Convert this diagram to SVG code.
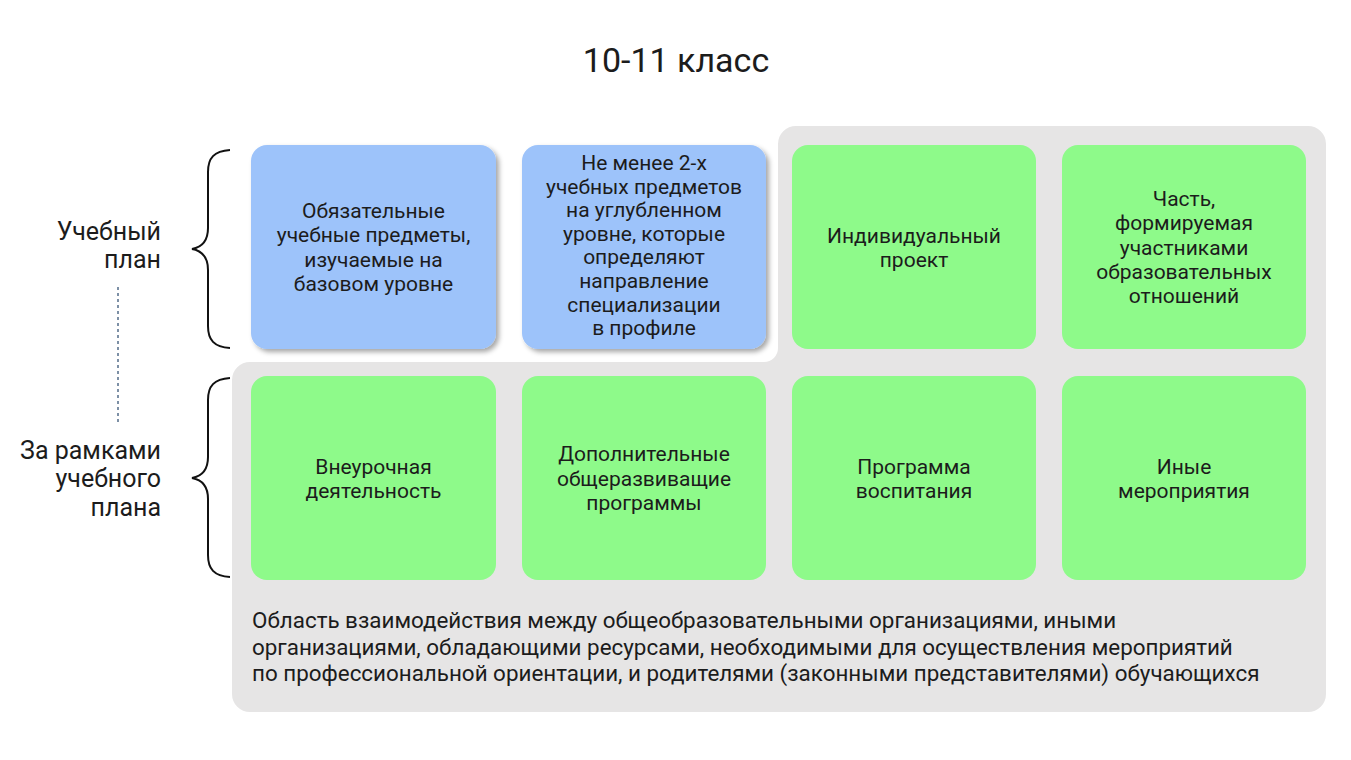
<svg xmlns="http://www.w3.org/2000/svg" width="1351" height="760" viewBox="0 0 1351 760">
<defs>
<filter id="sh" x="-10%" y="-10%" width="125%" height="125%">
<feDropShadow dx="3" dy="3" stdDeviation="2.5" flood-color="#000" flood-opacity="0.35"/>
</filter>
<style>
text{font-family:Roboto,"Liberation Sans",sans-serif;fill:#1c1c1c}
.t{font-size:21px;text-anchor:middle}
.side{font-size:25px;text-anchor:end}
.title{font-size:34px;text-anchor:middle}
.foot{font-size:22.4px}
.blue{fill:#9dc3fa;filter:url(#sh)}
.green{fill:#8efa8a}
.brace{fill:none;stroke:#111;stroke-width:2}
</style>
</defs>
<rect width="1351" height="760" fill="#fff"/>
<text class="title" x="676" y="72">10-11 класс</text>

<g id="area">
<path d="M250 362 H764 A14 14 0 0 0 778 348 V144 A18 18 0 0 1 796 126 H1308 A18 18 0 0 1 1326 144 V694 A18 18 0 0 1 1308 712 H250 A18 18 0 0 1 232 694 V380 A18 18 0 0 1 250 362 Z" fill="#e6e5e5"/>
<text class="foot" x="252" y="628">Область взаимодействия между общеобразовательными организациями, иными</text>
<text class="foot" x="252" y="655">организациями, обладающими ресурсами, необходимыми для осуществления мероприятий</text>
<text class="foot" x="252" y="681">по профессиональной ориентации, и родителями (законными представителями) обучающихся</text>
</g>

<g id="connectors">
<path class="brace" d="M230 150 C214 151 208 158 208 172 V228 C208 240 203 247 192 249 C203 251 208 258 208 270 V326 C208 340 214 347 230 348"/>
<path class="brace" d="M230 378 C214 379 208 386 208 400 V457 C208 469 203 476 192 478 C203 480 208 487 208 499 V555 C208 569 214 576 230 577"/>
<line x1="118" y1="287" x2="118" y2="422" stroke="#7d90a6" stroke-width="2" stroke-dasharray="3 3"/>
</g>

<g id="label-plan">
<text class="side" x="161" y="240">Учебный</text>
<text class="side" x="161" y="268">план</text>
</g>
<g id="label-outside">
<text class="side" x="161" y="459">За рамками</text>
<text class="side" x="161" y="487">учебного</text>
<text class="side" x="161" y="516">плана</text>
</g>

<g id="n1">
<rect class="blue" x="251" y="145" width="245" height="204" rx="16"/>
<text class="t" x="373.5" y="218">Обязательные</text>
<text class="t" x="373.5" y="242.3">учебные предметы,</text>
<text class="t" x="373.5" y="266.7">изучаемые на</text>
<text class="t" x="373.5" y="291">базовом уровне</text>
</g>
<g id="n2">
<rect class="blue" x="522" y="145" width="244" height="204" rx="16"/>
<text class="t" x="644" y="170">Не менее 2-х</text>
<text class="t" x="644" y="193.6">учебных предметов</text>
<text class="t" x="644" y="217.2">на углубленном</text>
<text class="t" x="644" y="240.8">уровне, которые</text>
<text class="t" x="644" y="264.4">определяют</text>
<text class="t" x="644" y="288">направление</text>
<text class="t" x="644" y="311.6">специализации</text>
<text class="t" x="644" y="335.2">в профиле</text>
</g>
<g id="n3">
<rect class="green" x="792" y="145" width="244" height="204" rx="16"/>
<text class="t" x="914" y="242.5">Индивидуальный</text>
<text class="t" x="914" y="266.8">проект</text>
</g>
<g id="n4">
<rect class="green" x="1062" y="145" width="244" height="204" rx="16"/>
<text class="t" x="1184" y="205.9">Часть,</text>
<text class="t" x="1184" y="230.2">формируемая</text>
<text class="t" x="1184" y="254.5">участниками</text>
<text class="t" x="1184" y="278.8">образовательных</text>
<text class="t" x="1184" y="303.1">отношений</text>
</g>
<g id="n5">
<rect class="green" x="251" y="376" width="245" height="204" rx="16"/>
<text class="t" x="373.5" y="473.5">Внеурочная</text>
<text class="t" x="373.5" y="497.8">деятельность</text>
</g>
<g id="n6">
<rect class="green" x="522" y="376" width="244" height="204" rx="16"/>
<text class="t" x="644" y="461.3">Дополнительные</text>
<text class="t" x="644" y="485.6">общеразвиващие</text>
<text class="t" x="644" y="509.9">программы</text>
</g>
<g id="n7">
<rect class="green" x="792" y="376" width="244" height="204" rx="16"/>
<text class="t" x="914" y="473.5">Программа</text>
<text class="t" x="914" y="497.8">воспитания</text>
</g>
<g id="n8">
<rect class="green" x="1062" y="376" width="244" height="204" rx="16"/>
<text class="t" x="1184" y="473.5">Иные</text>
<text class="t" x="1184" y="497.8">мероприятия</text>
</g>
</svg>
